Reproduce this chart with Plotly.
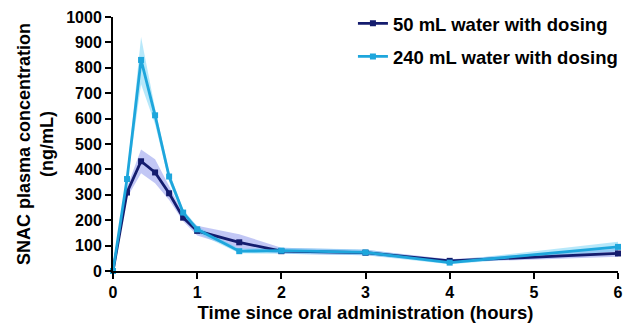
import plotly.graph_objects as go

time_h = [0, 1/6, 1/3, 0.5, 2/3, 5/6, 1, 1.5, 2, 3, 4, 6]

ml50_mean = [0, 309, 432, 388, 306, 210, 158, 113, 78, 72, 40, 69]
ml50_upper = [0, 330, 478, 440, 335, 225, 178, 145, 92, 84, 46, 88]
ml50_lower = [0, 288, 385, 345, 280, 196, 140, 88, 68, 62, 34, 56]

ml240_mean = [0, 362, 831, 613, 372, 230, 164, 78, 80, 73, 33, 95]
ml240_upper = [0, 380, 921, 640, 390, 242, 176, 88, 92, 85, 40, 115]
ml240_lower = [0, 344, 735, 578, 352, 218, 150, 70, 68, 62, 27, 78]

x_ticks = [0, 1, 2, 3, 4, 5, 6]
y_ticks = [0, 100, 200, 300, 400, 500, 600, 700, 800, 900, 1000]

names = ["50 mL water with dosing", "240 mL water with dosing"]
line_colors = ["#141c6e", "#1ea6dc"]
band_colors = ["rgba(95,108,228,0.38)", "rgba(95,205,245,0.45)"]

series = [(ml50_mean, ml50_upper, ml50_lower), (ml240_mean, ml240_upper, ml240_lower)]

fig = go.Figure()

for i, (mean, up, lo) in enumerate(series):
    fig.add_trace(go.Scatter(x=time_h, y=lo, mode="lines", line=dict(width=0),
                             showlegend=False, hoverinfo="skip"))
    fig.add_trace(go.Scatter(x=time_h, y=up, mode="lines", line=dict(width=0),
                             fill="tonexty", fillcolor=band_colors[i],
                             showlegend=False, hoverinfo="skip"))

for i, (mean, up, lo) in enumerate(series):
    fig.add_trace(go.Scatter(x=time_h, y=mean, mode="lines+markers", name=names[i],
                             legendgroup=f"g{i}",
                             line=dict(color=line_colors[i], width=2.8),
                             marker=dict(symbol="square", size=6, color=line_colors[i]),
                             cliponaxis=False))

font_family = "Liberation Sans, Arial, sans-serif"

fig.update_layout(
    width=629, height=323,
    margin=dict(l=113, r=0, t=17, b=52),
    paper_bgcolor="white", plot_bgcolor="white",
    font=dict(family=font_family, color="black", size=16),
    legend=dict(x=0.465, y=1.048, xanchor="left", yanchor="top",
                font=dict(size=18.5, family=font_family, weight="bold"),
                tracegroupgap=6, traceorder="grouped",
                bgcolor="rgba(0,0,0,0)"),
    xaxis=dict(range=[0, 6], tickvals=x_ticks, ticktext=[str(v) for v in x_ticks],
               domain=[0, 505 / 516],
               automargin=False,
               showline=True, linecolor="black", linewidth=2,
               ticks="outside", ticklen=6, tickwidth=2, tickcolor="black",
               showgrid=False, zeroline=False,
               tickfont=dict(size=16, family=font_family, weight="bold"),
               title=dict(text="Time since oral administration (hours)",
                          font=dict(size=18.5, family=font_family, weight="bold"),
                          standoff=6)),
    yaxis=dict(range=[0, 1000], tickvals=y_ticks, ticktext=[str(v) for v in y_ticks],
               automargin=False,
               showline=True, linecolor="black", linewidth=2,
               ticks="outside", ticklen=6, tickwidth=2, tickcolor="black",
               showgrid=False, zeroline=False,
               tickfont=dict(size=16, family=font_family, weight="bold"),
               title=dict(text="SNAC plasma concentration<br>(ng/mL)",
                          font=dict(size=18, family=font_family, weight="bold"),
                          standoff=8)),
)

fig.write_html("out.html", config={"displayModeBar": False},
               post_script="document.body.style.margin='0';")
